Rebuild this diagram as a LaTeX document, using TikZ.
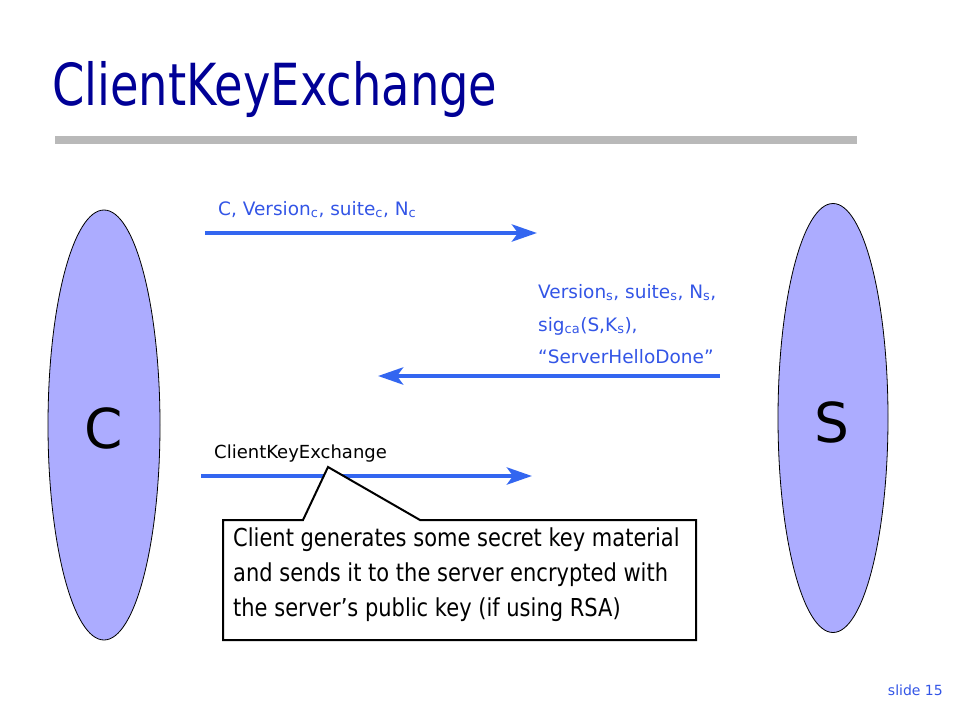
\documentclass[tikz,border=0pt]{standalone}
\usepackage{fontspec}
\setmainfont{DejaVu Sans}
\newfontfamily\titlefont{DejaVu Sans}[FakeStretch=0.80]
\newfontfamily\notefont{DejaVu Sans}[FakeStretch=0.85]
\usetikzlibrary{shapes.geometric, arrows.meta, positioning}

\definecolor{titleblue}{RGB}{0,0,150}
\definecolor{msgblue}{RGB}{51,102,240}
\definecolor{labelblue}{RGB}{51,85,230}
\definecolor{partyfill}{RGB}{172,172,255}

\begin{document}
\begin{tikzpicture}[x=1pt,y=-1pt,
    party/.style={draw, ellipse, fill=partyfill, line width=0.8pt,
        minimum width=112pt, minimum height=430pt, inner sep=0pt},
    partyname/.style={font=\fontsize{55}{55}\selectfont},
    msg/.style={draw=msgblue, line width=4.5pt,
        -{Stealth[length=25pt, width=17pt, inset=6pt]}},
    msglabel/.style={anchor=base west, inner sep=0pt, text=labelblue,
        font=\fontsize{18.5}{18.5}\selectfont}]
\useasboundingbox (0,0) rectangle (960,720);

% Title and rule
\node[anchor=base west, inner sep=0pt, text=titleblue,
    font=\titlefont\fontsize{58}{58}\selectfont] (title) at (52,105) {ClientKeyExchange};
\fill[gray!55] (55,136) rectangle (857,144);

% Client and server
\node[party] (client) at (104,425) {};
\node[party, minimum width=110pt, minimum height=429pt] (server) at (833,418) {};
\node[partyname] (cname) at (104,428) {C};
\node[partyname] (sname) at (832,422) {S};

% Messages
\coordinate (m1a) at (205,233);
\coordinate (m1b) at (537,233);
\coordinate (m2a) at (720,376);
\coordinate (m2b) at (378,376);
\coordinate (m3a) at (201,476);
\coordinate (m3b) at (532,476);

\draw[msg] (m1a) -- (m1b);
\draw[msg] (m2a) -- (m2b);
\draw[msg] (m3a) -- (m3b);

\node[msglabel] (label1) at (218,215)
    {C, Version\textsubscript{c}, suite\textsubscript{c}, N\textsubscript{c}};
\node[msglabel] (label2a) at (538,298)
    {Version\textsubscript{s}, suite\textsubscript{s}, N\textsubscript{s},};
\node[msglabel] (label2b) at (538,331)
    {sig\textsubscript{ca}(S,K\textsubscript{s}),};
\node[msglabel] (label2c) at (538,363)
    {“ServerHelloDone”};
\node[msglabel, text=black, font=\fontsize{18}{18}\selectfont] (label3)
    at (214,458) {ClientKeyExchange};

% Callout
\coordinate (nw) at (223,520);
\coordinate (ne) at (696,520);
\coordinate (se) at (696,640);
\coordinate (sw) at (223,640);
\coordinate (footl) at (303,520);
\coordinate (tip) at (328,467);
\coordinate (footr) at (420,520);

\draw[line width=2pt, fill=white] (nw) -- (footl) -- (tip) -- (footr)
    -- (ne) -- (se) -- (sw) -- cycle;

\node[anchor=base west, inner sep=0pt, align=left,
    font=\notefont\fontsize{24.7}{35}\selectfont] (note) at (233,616)
    {Client generates some secret key material\\
     and sends it to the server encrypted with\\
     the server’s public key (if using RSA)};

\node[anchor=base east, inner sep=0pt, text=labelblue,
    font=\fontsize{14}{14}\selectfont] (slide) at (943,695) {slide 15};

\end{tikzpicture}
\end{document}
